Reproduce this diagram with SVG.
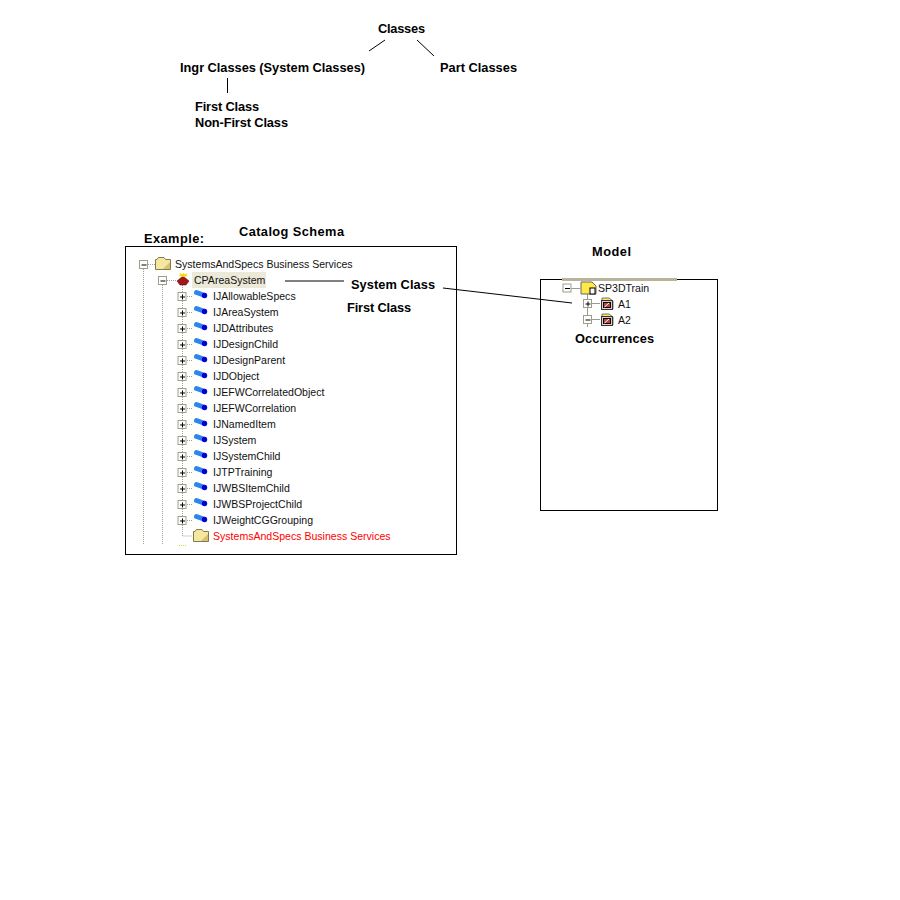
<svg xmlns="http://www.w3.org/2000/svg" width="900" height="900" viewBox="0 0 900 900">
<style>
text{font-family:"Liberation Sans",Arial,sans-serif;fill:#000}
.b{font-size:12.8px;font-weight:bold}
.t{font-size:10.55px;fill:#111}
.frame{fill:#fff;stroke:#000;stroke-width:1}
.c{stroke:#000;stroke-width:1;fill:none}
.dot{stroke:#a3a38c;stroke-width:1;stroke-dasharray:1 1;fill:none}
.bx{fill:#fff;stroke:#99a08c;stroke-width:1}
.sg{stroke:#000;stroke-width:1}
</style>
<defs>
<g id="minus"><rect class="bx" x="-4" y="-4" width="8" height="8"/><path class="sg" d="M-2 0.500H3"/></g>
<g id="plus"><rect class="bx" x="-4" y="-4" width="8" height="8"/><path class="sg" d="M-2 0.500H3M0.500 -2V3"/></g>
<g id="cap"><path d="M2.500 2.500L9.500 5" stroke="#2f86e8" stroke-width="5" stroke-linecap="round" fill="none"/><circle cx="10.500" cy="5.500" r="2.700" fill="#0000d8"/></g>
<g id="folder"><path d="M0.500 2.500H2L3.500 0.500H9L10.500 2.500H15.500V12.500H0.500Z" fill="#f5e6a0" stroke="#857a4a"/><path d="M8 12L15 5V12Z" fill="#d8c070"/></g>
<g id="occ"><path d="M1 1H8L12 4V12H1Z" fill="#ffe84a" stroke="#777"/><rect x="0.500" y="3.500" width="11" height="9" fill="#d8d4c4" stroke="#333"/><rect x="2.500" y="5.500" width="7" height="5" fill="#c04048" stroke="#000"/><path d="M3.500 10L8 6" stroke="#fff"/></g>
</defs>

<g id="node-classes"><text class="b" x="378" y="33" textLength="47">Classes</text></g>
<g id="node-ingr"><text class="b" x="180" y="72" textLength="185">Ingr Classes (System Classes)</text></g>
<g id="node-part"><text class="b" x="440" y="72" textLength="77">Part Classes</text></g>
<g id="node-first"><text class="b" x="195" y="111" textLength="64">First Class</text></g>
<g id="node-nonfirst"><text class="b" x="195" y="127" textLength="93">Non-First Class</text></g>

<g id="node-example"><text class="b" x="144" y="243" textLength="60">Example:</text></g>
<g id="node-catalog"><text class="b" x="239" y="236" textLength="105">Catalog Schema</text></g>
<g id="node-model-title"><text class="b" x="592" y="256" textLength="39">Model</text></g>

<g id="node-catalog-tree">
<rect class="frame" x="125.500" y="246.500" width="331" height="308"/>
<path class="dot" d="M143.500 269V545M162.500 285V545M182.500 285V536H192M148 264.500H155M167 280.500H176M187 296.500H193M187 312.500H193M187 328.500H193M187 344.500H193M187 360.500H193M187 376.500H193M187 392.500H193M187 408.500H193M187 424.500H193M187 440.500H193M187 456.500H193M187 472.500H193M187 488.500H193M187 504.500H193M187 520.500H193"/>
<path d="M179 545.500H186" stroke="#e8d840" stroke-dasharray="1 1" fill="none"/>
<use href="#minus" x="143.500" y="264.500"/>
<use href="#folder" x="155" y="257"/>
<text class="t" x="175" y="268">SystemsAndSpecs Business Services</text>
<use href="#minus" x="162.500" y="280.500"/>
<path d="M177 281L183 276L189 281L186 285H180Z" fill="#a01818" stroke="#500" stroke-width=".5"/><path d="M179.500 276L180 273L182 274.500L183.500 273L185 274.500L186.500 273L187 276L183 277Z" fill="#ffd800"/>
<rect x="192" y="272" width="74" height="16" fill="#ece9d8"/>
<text class="t" x="194" y="284">CPAreaSystem</text>

<use href="#plus" x="182" y="296.500"/><use href="#cap" x="194" y="290"/><text class="t" x="213" y="300">IJAllowableSpecs</text>
<use href="#plus" x="182" y="312.500"/><use href="#cap" x="194" y="306"/><text class="t" x="213" y="316">IJAreaSystem</text>
<use href="#plus" x="182" y="328.500"/><use href="#cap" x="194" y="322"/><text class="t" x="213" y="332">IJDAttributes</text>
<use href="#plus" x="182" y="344.500"/><use href="#cap" x="194" y="338"/><text class="t" x="213" y="348">IJDesignChild</text>
<use href="#plus" x="182" y="360.500"/><use href="#cap" x="194" y="354"/><text class="t" x="213" y="364">IJDesignParent</text>
<use href="#plus" x="182" y="376.500"/><use href="#cap" x="194" y="370"/><text class="t" x="213" y="380">IJDObject</text>
<use href="#plus" x="182" y="392.500"/><use href="#cap" x="194" y="386"/><text class="t" x="213" y="396">IJEFWCorrelatedObject</text>
<use href="#plus" x="182" y="408.500"/><use href="#cap" x="194" y="402"/><text class="t" x="213" y="412">IJEFWCorrelation</text>
<use href="#plus" x="182" y="424.500"/><use href="#cap" x="194" y="418"/><text class="t" x="213" y="428">IJNamedItem</text>
<use href="#plus" x="182" y="440.500"/><use href="#cap" x="194" y="434"/><text class="t" x="213" y="444">IJSystem</text>
<use href="#plus" x="182" y="456.500"/><use href="#cap" x="194" y="450"/><text class="t" x="213" y="460">IJSystemChild</text>
<use href="#plus" x="182" y="472.500"/><use href="#cap" x="194" y="466"/><text class="t" x="213" y="476">IJTPTraining</text>
<use href="#plus" x="182" y="488.500"/><use href="#cap" x="194" y="482"/><text class="t" x="213" y="492">IJWBSItemChild</text>
<use href="#plus" x="182" y="504.500"/><use href="#cap" x="194" y="498"/><text class="t" x="213" y="508">IJWBSProjectChild</text>
<use href="#plus" x="182" y="520.500"/><use href="#cap" x="194" y="514"/><text class="t" x="213" y="524">IJWeightCGGrouping</text>
<use href="#folder" x="193" y="529"/>
<text class="t" x="213" y="540" style="fill:#f00">SystemsAndSpecs Business Services</text>
</g>

<g id="node-system-class"><text class="b" x="351" y="289" textLength="84">System Class</text></g>
<g id="node-first-class"><text class="b" x="347" y="312" textLength="64">First Class</text></g>

<g id="node-model-tree">
<rect class="frame" x="540.500" y="279.500" width="177" height="231"/>
<rect x="562" y="278" width="115" height="3" fill="#b8b49c"/>
<path d="M587.500 293V327M571 288.500H580M592 303.500H600M592 319.500H600" stroke="#999" fill="none"/>
<use href="#minus" x="567" y="288"/>
<path d="M581 282H592L596 286V294H581Z" fill="#ffe84a" stroke="#666"/><rect x="590" y="288" width="5" height="6" fill="#fff" stroke="#000"/>
<text class="t" x="598" y="292">SP3DTrain</text>
<use href="#plus" x="587.500" y="303.500"/><use href="#occ" x="601" y="297"/><text class="t" x="618" y="308">A1</text>
<use href="#minus" x="587.500" y="319.500"/><use href="#occ" x="601" y="313"/><text class="t" x="618" y="324">A2</text>
</g>
<g id="node-occurrences"><text class="b" x="575" y="343" textLength="79">Occurrences</text></g>

<g id="connectors">
<path class="c" d="M385 40L369 51"/>
<path class="c" d="M417 40L434 56"/>
<path class="c" d="M227.500 78V93"/>
<path class="c" d="M285 281H344"/>
<path class="c" d="M443 288L572 303"/>
</g>
</svg>
